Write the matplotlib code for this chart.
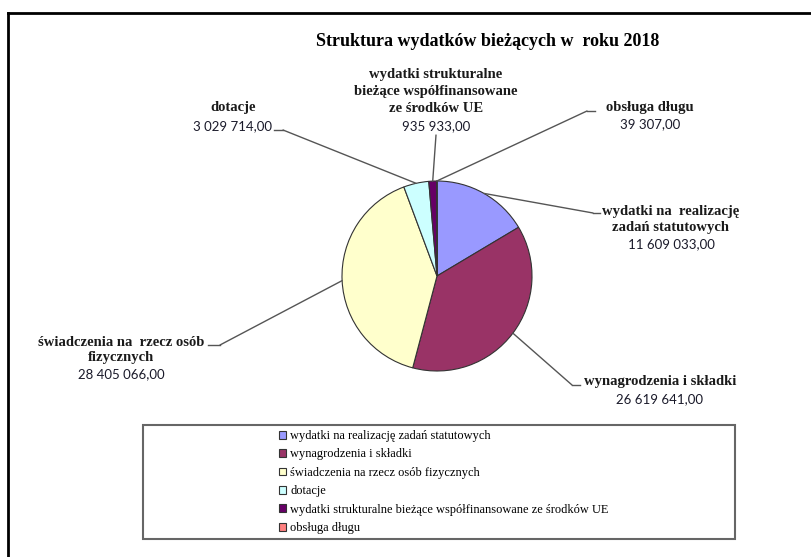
import numpy as np
import matplotlib
matplotlib.use('Agg')
import matplotlib.pyplot as plt
from matplotlib.lines import Line2D
from matplotlib.patches import Rectangle

# dane
kategorie = ['wydatki na realizację zadań statutowych',
             'wynagrodzenia i składki',
             'świadczenia na rzecz osób fizycznych',
             'dotacje',
             'wydatki strukturalne bieżące współfinansowane ze środków UE',
             'obsługa długu']
wartosci = [11609033.00, 26619641.00, 28405066.00, 3029714.00, 935933.00, 39307.00]
etykiety = [['wydatki na  realizację', 'zadań statutowych'],
            ['wynagrodzenia i składki'],
            ['świadczenia na  rzecz osób', 'fizycznych'],
            ['dotacje'],
            ['wydatki strukturalne', 'bieżące współfinansowane', 'ze środków UE'],
            ['obsługa długu']]
kolory = ['#9999FF', '#993366', '#FFFFCC', '#CCFFFF', '#660066', '#FF8080']
tytul = 'Struktura wydatków bieżących w  roku 2018'

W, H = 812, 557


def px(x, y):
    # piksele (od lewego gornego rogu) -> ulamek figury
    return (x / W, 1 - y / H)


def fmt(v):
    return f'{v:,.2f}'.replace(',', ' ').replace('.', ',')


# polozenie etykiet: srodek x, y kolejnych linii, y wartosci, lokiec, koniec linii
uklad = [
    (671, [211, 227], 244, (593, 213), (600, 213)),
    (660, [382], 399, (572, 385), (580, 385)),
    (121, [342, 358], 374, (220, 345), (208, 345)),
    (233, [108], 126, (283, 130), (274, 130)),
    (436, [75, 92, 108], 126, (436, 135), (436, 135)),
    (650, [107], 124, (587, 111), (595, 111)),
]

fig = plt.figure(figsize=(W / 100, H / 100), dpi=100)

cx, cy, r = 437, 276, 95
m = 1.03
ax = fig.add_axes([(cx - r * m) / W, 1 - (cy + r * m) / H, 2 * r * m / W, 2 * r * m / H])
wedges, _ = ax.pie(wartosci, colors=kolory, startangle=90, counterclock=False,
                   radius=1, wedgeprops=dict(edgecolor='#333333', linewidth=0.8))
ax.set_xlim(-m, m)
ax.set_ylim(-m, m)
ax.axis('off')

szary = '#555555'
for w, v, linie, (lx, ys, yv, lok, kon) in zip(wedges, wartosci, etykiety, uklad):
    th = np.deg2rad((w.theta1 + w.theta2) / 2)
    ax.annotate('', xy=(np.cos(th), np.sin(th)), xycoords='data',
                xytext=px(*lok), textcoords='figure fraction',
                arrowprops=dict(arrowstyle='-', color=szary, lw=1.0,
                                shrinkA=0, shrinkB=0))
    fig.add_artist(Line2D([lok[0] / W, kon[0] / W], [1 - lok[1] / H, 1 - kon[1] / H],
                          color=szary, lw=1.0))
    for t, y in zip(linie, ys):
        fig.text(*px(lx, y), t, ha='center', va='center', fontsize=10.5,
                 fontweight='bold', family='Liberation Serif', color='#1a1a1a')
    fig.text(*px(lx, yv), fmt(v), ha='center', va='center', fontsize=9.5,
             family='Lato', color='#1a1a2a')

fig.text(*px(488, 42), tytul, ha='center', va='center', fontsize=13,
         fontweight='bold', family='Liberation Serif')

# legenda
fig.add_artist(Rectangle(px(143, 539), (735 - 143) / W, (539 - 425) / H,
                         transform=fig.transFigure, fill=False,
                         edgecolor='#666666', lw=1.5))
fig.legend(wedges, kategorie, loc='upper left', bbox_to_anchor=px(279, 430),
           frameon=False, prop=dict(family='Liberation Serif', size=8.9),
           handlelength=0.6, handleheight=0.6, handletextpad=0.3,
           labelspacing=0.52, borderaxespad=0, borderpad=0)

# ramka
fig.add_artist(Line2D([8 / W, 1.0], [1 - 13 / H, 1 - 13 / H], color='black', lw=2))
fig.add_artist(Line2D([8 / W, 8 / W], [0.0, 1 - 13 / H], color='black', lw=2))

fig.savefig('out.png', dpi=100)
